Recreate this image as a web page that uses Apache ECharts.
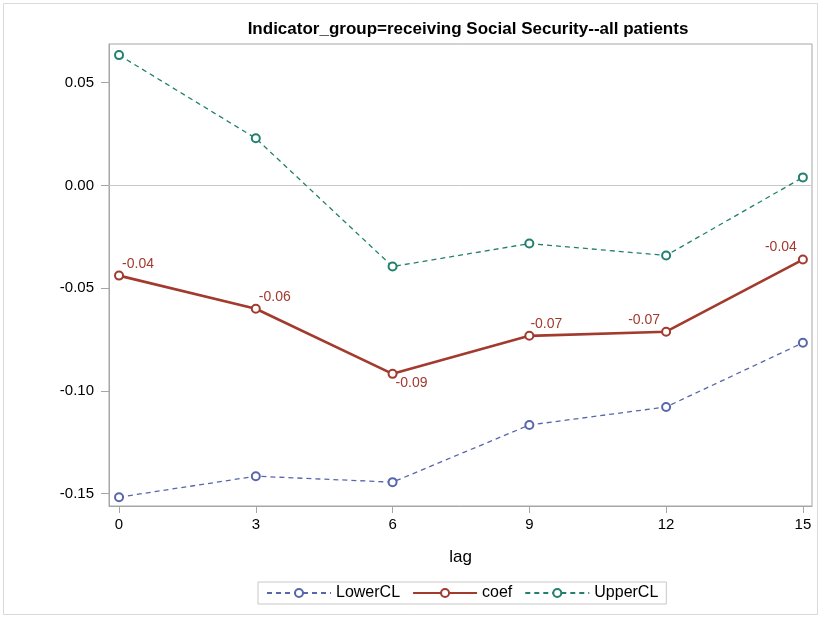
<!DOCTYPE html>
<html>
<head>
<meta charset="utf-8">
<script src="https://cdn.jsdelivr.net/npm/echarts@6/dist/echarts.min.js"></script>
<style>
  html, body { margin: 0; padding: 0; background: #fff; }
  #chart { width: 821px; height: 618px; }
</style>
</head>
<body>
<div id="chart"></div>
<script>
// Lag values (x) and estimates per lag
const lags = [0, 3, 6, 9, 12, 15];
const lowerCL = [-0.1517, -0.1415, -0.1444, -0.1166, -0.1078, -0.0766];
const coef = [-0.0439, -0.0600, -0.0917, -0.0732, -0.0712, -0.0361];
const upperCL = [0.0634, 0.0229, -0.0395, -0.0283, -0.0341, 0.0039];
const yTicks = [-0.15, -0.10, -0.05, 0.00, 0.05];
const xTicks = [0, 3, 6, 9, 12, 15];

// label placement around each coef point
const coefLabelOffsets = [[19, -11], [19, -12], [19, 9], [17, -12], [-22, -12], [-22, -12]];

const FONT = "'Liberation Sans', Arial, sans-serif";
const C_LOW = '#5866aa';
const C_COEF = '#a23a2e';
const C_UP = '#23806f';

const pairs = (ys) => lags.map((x, i) => [x, ys[i]]);

const chart = echarts.init(document.getElementById('chart'), null, { renderer: 'canvas' });

chart.setOption({
  backgroundColor: '#ffffff',
  animation: false,
  title: {
    text: 'Indicator_group=receiving Social Security--all patients',
    left: 463,
    top: 16,
    textAlign: 'center',
    textStyle: {
      fontFamily: FONT,
      fontSize: 17,
      fontWeight: 'bold',
      color: '#000'
    }
  },
  graphic: [{
    type: 'rect',
    shape: { x: 3.5, y: 3.5, width: 814, height: 611 },
    style: { fill: 'none', stroke: '#d9d9d9', lineWidth: 1 },
    silent: true,
    z: -10
  }],
  grid: {
    left: 109, right: 9, top: 44, bottom: 112,
    show: true,
    borderColor: '#a6a6a6',
    borderWidth: 1,
    backgroundColor: '#fff'
  },
  legend: {
    left: 258,
    top: 582,
    padding: [3, 8, 3, 8],
    borderColor: '#c8c8c8',
    borderWidth: 1,
    itemWidth: 64,
    itemHeight: 10,
    itemGap: 12,
    textStyle: { fontFamily: FONT, fontSize: 16, color: '#000' },
    data: ['LowerCL', 'coef', 'UpperCL']
  },
  xAxis: {
    type: 'value',
    min: -0.22,
    max: 15.2,
    name: 'lag',
    nameLocation: 'middle',
    nameGap: 43,
    nameTextStyle: { fontFamily: FONT, fontSize: 17, color: '#000' },
    axisLine: { show: true, onZero: false, lineStyle: { color: '#a6a6a6' } },
    axisTick: { show: true, length: 7, customValues: xTicks, lineStyle: { color: '#a6a6a6' } },
    axisLabel: { customValues: xTicks, margin: 11, fontFamily: FONT, fontSize: 15, color: '#000' },
    splitLine: { show: false }
  },
  yAxis: {
    type: 'value',
    min: -0.156,
    max: 0.0688,
    axisLine: { show: true, onZero: false, lineStyle: { color: '#a6a6a6' } },
    axisTick: { show: true, length: 8, customValues: yTicks, lineStyle: { color: '#a6a6a6' } },
    axisLabel: {
      customValues: yTicks,
      margin: 15,
      fontFamily: FONT, fontSize: 15, color: '#000',
      formatter: (v) => v.toFixed(2)
    },
    splitLine: { show: false }
  },
  series: [
    {
      name: 'LowerCL',
      type: 'line',
      data: pairs(lowerCL),
      symbol: 'emptyCircle',
      symbolSize: 8,
      color: C_LOW,
      lineStyle: { color: C_LOW, width: 1.3, type: [5, 4] },
      itemStyle: { color: C_LOW, borderColor: C_LOW, borderWidth: 1.1 },
      z: 3
    },
    {
      name: 'coef',
      type: 'line',
      data: pairs(coef).map((p, i) => ({
        value: p,
        label: {
          show: true,
          position: 'inside',
          offset: coefLabelOffsets[i],
          formatter: () => coef[i].toFixed(2)
        }
      })),
      symbol: 'emptyCircle',
      symbolSize: 8,
      color: C_COEF,
      lineStyle: { color: C_COEF, width: 2.6, type: 'solid' },
      itemStyle: { color: C_COEF, borderColor: C_COEF, borderWidth: 1.1 },
      label: { fontFamily: FONT, fontSize: 14, color: C_COEF },
      z: 4,
      markLine: {
        silent: true,
        symbol: 'none',
        label: { show: false },
        lineStyle: { color: '#c8c8c8', width: 1, type: 'solid' },
        data: [{ yAxis: 0 }],
        z: 1
      }
    },
    {
      name: 'UpperCL',
      type: 'line',
      data: pairs(upperCL),
      symbol: 'emptyCircle',
      symbolSize: 8,
      color: C_UP,
      lineStyle: { color: C_UP, width: 1.3, type: [5, 4] },
      itemStyle: { color: C_UP, borderColor: C_UP, borderWidth: 1.1 },
      z: 3
    }
  ]
});
</script>
</body>
</html>
